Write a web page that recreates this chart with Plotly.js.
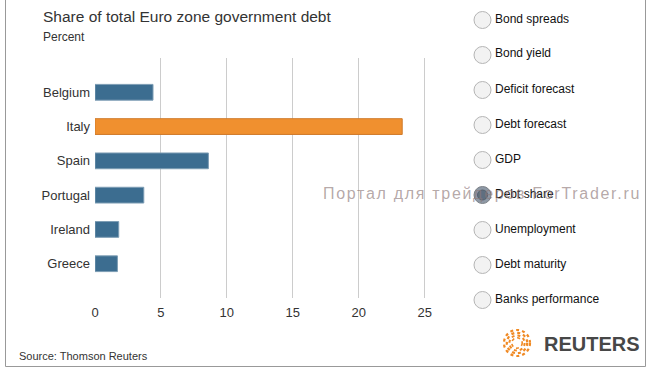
<!DOCTYPE html>
<html><head><meta charset="utf-8">
<script src="https://cdn.plot.ly/plotly-3.0.1.min.js"></script>
<style>body{margin:0;padding:0;background:#fff}#c{width:650px;height:368px}</style>
</head><body><div id="c"></div>
<script>
const countries = ["Belgium","Italy","Spain","Portugal","Ireland","Greece"];
const shares = [4.4, 23.3, 8.6, 3.7, 1.8, 1.7];
const barColors = ["#3c6d90","#f0902f","#3c6d90","#3c6d90","#3c6d90","#3c6d90"];
const barEdges = ["#7d9db4","#cf7a2a","#7d9db4","#7d9db4","#7d9db4","#7d9db4"];
const xTicks = [0,5,10,15,20,25];
const options = ["Bond spreads","Bond yield","Deficit forecast","Debt forecast","GDP","Debt share","Unemployment","Debt maturity","Banks performance"];
const selectedOption = "Debt share";

const L=95, R=451, T=58, B=298, W=650, H=368;
const px = x => (x-L)/(R-L);
const py = y => (B-y)/(B-T);

const shapes = [];
const annotations = [];
// frame
shapes.push({type:'line',xref:'paper',yref:'paper',x0:px(5.5),x1:px(5.5),y0:py(-2),y1:py(366.5),line:{color:'#999',width:1}});
shapes.push({type:'line',xref:'paper',yref:'paper',x0:px(645.5),x1:px(645.5),y0:py(-2),y1:py(366.5),line:{color:'#999',width:1}});
shapes.push({type:'line',xref:'paper',yref:'paper',x0:px(5.5),x1:px(645.5),y0:py(366.5),y1:py(366.5),line:{color:'#999',width:1}});

options.forEach((o,i)=>{
  const cy = 20 + 35*i, cx = 482.5, r = 8.5;
  const sel = o===selectedOption;
  shapes.push({type:'circle',xref:'paper',yref:'paper',x0:px(cx-r),x1:px(cx+r),y0:py(cy+r),y1:py(cy-r),
    fillcolor: sel ? '#8e99a6' : '#f2f2f2', line:{color: sel ? '#7a7f86':'#b5b5b5', width:1}});
  if(sel){
    shapes.push({type:'circle',xref:'paper',yref:'paper',x0:px(cx-5),x1:px(cx+5),y0:py(cy+5),y1:py(cy-5),
      fillcolor:'#5f6f80', line:{color:'#55606c',width:1}});
  }
  annotations.push({text:o,xref:'paper',yref:'paper',x:px(492.5),y:py(cy-1.5),xanchor:'left',yanchor:'middle',showarrow:false,
    font:{family:'Arial, Liberation Sans',size:12,color:'#111'}});
});

// Reuters logo
const lx=517, ly=343;
[[13,2.2],[10.2,2.2],[7.6,2],[5.2,1.6]].forEach(([r,w])=>{
  shapes.push({type:'circle',xref:'paper',yref:'paper',x0:px(lx-r),x1:px(lx+r),y0:py(ly+r),y1:py(ly-r),
    line:{color:'#f08a24',width:w,dash:'dot'},fillcolor:'rgba(0,0,0,0)'});
});
annotations.push({text:'<b>REUTERS</b>',xref:'paper',yref:'paper',x:px(542),y:py(343.5),xanchor:'left',yanchor:'middle',showarrow:false,
  font:{family:'Arial, Liberation Sans',size:20,color:'#474747'}});

// titles
annotations.push({text:'Share of total Euro zone government debt',xref:'paper',yref:'paper',x:px(41),y:py(17),xanchor:'left',yanchor:'middle',showarrow:false,
  font:{family:'Arial, Liberation Sans',size:15.5,color:'#333'}});
annotations.push({text:'Percent',xref:'paper',yref:'paper',x:px(41),y:py(37),xanchor:'left',yanchor:'middle',showarrow:false,
  font:{family:'Arial, Liberation Sans',size:12,color:'#333'}});
annotations.push({text:'Source: Thomson Reuters',xref:'paper',yref:'paper',x:px(17),y:py(356),xanchor:'left',yanchor:'middle',showarrow:false,
  font:{family:'Arial, Liberation Sans',size:11,color:'#333'}});
// watermark
annotations.push({text:'<span style="letter-spacing:1.7px">Портал для трейдеров ForTrader.ru</span>',xref:'paper',yref:'paper',x:px(643),y:py(193),xanchor:'right',yanchor:'middle',showarrow:false,
  font:{family:'Arial, Liberation Sans',size:16,color:'rgba(140,120,120,0.65)'}});

const data = [{
  type:'bar', orientation:'h', y:countries, x:shares,
  marker:{color:barColors, line:{color:barEdges,width:1}},
  width:0.46, hoverinfo:'none'
}];

const layout = {
  width:W, height:H, margin:{l:L,r:W-R,t:T,b:H-B,pad:0},
  paper_bgcolor:'#fff', plot_bgcolor:'#fff', showlegend:false,
  font:{family:'Arial, Liberation Sans',size:12,color:'#333'},
  xaxis:{range:[0,27],tickvals:xTicks,ticktext:xTicks.map(String),showgrid:true,gridcolor:'#cccccc',gridwidth:1,
    zeroline:false,showline:false,ticks:'',tickfont:{size:13,color:'#333'},ticklabelstandoff:5,fixedrange:true},
  yaxis:{type:'category',categoryorder:'array',categoryarray:countries,range:[6,-1],showgrid:false,zeroline:false,
    showline:false,ticks:'',tickfont:{size:13,color:'#333'},ticklabelstandoff:4,fixedrange:true},
  shapes:shapes, annotations:annotations
};
Plotly.newPlot('c',data,layout,{displayModeBar:false,staticPlot:true});
</script></body></html>
